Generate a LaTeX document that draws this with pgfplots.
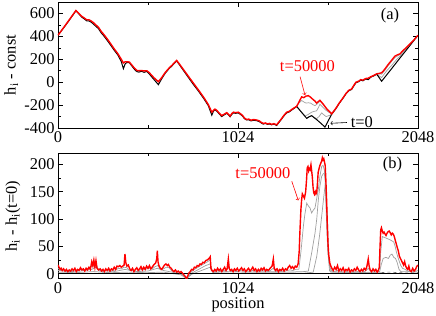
\documentclass[border=0pt]{standalone}
\usepackage{pgfplots}
\pgfplotsset{compat=1.18}
\usepackage{fontspec}
\setmainfont{Liberation Serif}
\definecolor{lgray}{RGB}{160,160,160}
\definecolor{dgray}{RGB}{110,110,110}
\newcommand{\ff}{\fontsize{16.5}{19}\selectfont}
\begin{document}
\begin{tikzpicture}
\useasboundingbox (-58bp,2bp) rectangle (378bp,-314bp);
\pgfplotsset{
 myax/.style={scale only axis, width=360bp, xmin=0, xmax=2048, anchor=north west,
  font=\ff,
  /pgf/number format/assume math mode=true, /pgf/number format/1000 sep={},
  xtick={0,1024,2048}, minor xtick={512,1536},
  axis line style={line width=0.8bp},
  every tick/.style={black, line width=0.6bp},
  major tick length=5bp, minor tick length=3bp},
 gl/.style={lgray, line width=0.7bp},
 rl/.style={red, line width=1.4bp},
 bl/.style={black, line width=1bp}
}
% ---------------- panel (a) ----------------
\begin{axis}[myax, at={(0,0)}, height=126bp,
  ymin=-400, ymax=700, ytick={-400,-200,...,600}, minor ytick={-300,-100,100,300,500},
  ylabel={h\textsubscript{i} - const},
  ylabel style={at={(axis description cs:-0.13,0.5)}, anchor=center}]
\addplot[gl] coordinates {(1340,-230)(1358,-211)(1372,-180)(1386,-160)(1398,-172)(1410,-182)(1424,-180)(1436,-182)(1450,-196)(1462,-205)(1475,-190)(1490,-165)(1500,-180)(1509,-196)(1530,-236)(1557,-277)(1580,-231)};
\addplot[gl] coordinates {(1358,-211)(1385,-260)(1405,-295)(1420,-285)(1443,-262)(1457,-255)(1471,-250)(1482,-220)(1490,-192)(1505,-215)(1520,-240)(1540,-262)(1557,-278)};
\addplot[gl] coordinates {(1415,-314)(1443,-294)(1457,-306)(1471,-318)(1485,-300)(1500,-268)(1510,-282)(1525,-300)(1545,-290)(1557,-280)};
\addplot[gl] coordinates {(1795,56)(1813,72)(1830,72)(1841,70)(1860,105)(1879,145)(1900,185)(1917,215)(1935,232)(1946,242)(1962,270)(1980,298)};
\addplot[gl] coordinates {(1813,71)(1841,40)(1870,100)(1900,150)(1930,205)(1946,228)(1970,275)(1990,305)};
\addplot[bl] coordinates {
(0,410)(30,470)(60,532)(102,624)(120,594)(135,568)(150,552)(163,536)(175,535)(185,528)
(200,510)(215,488)(230,468)(245,432)(260,405)(280,365)(300,322)(320,278)(340,238)(360,180)
(372,118)(382,160)(392,172)(406,170)(420,142)(435,112)(448,93)(460,88)(475,95)(490,86)
(505,94)(518,75)(532,48)(545,25)(558,2)(571,-22)(590,30)(610,78)(630,115)(650,145)
(675,186)(690,154)(710,110)(740,45)(770,-20)(800,-80)(830,-145)(855,-205)(875,-288)(885,-252)
(893,-240)(905,-256)(918,-278)(931,-300)(945,-286)(960,-272)(970,-286)(979,-302)(990,-278)(998,-268)
(1010,-272)(1025,-268)(1035,-278)(1050,-296)(1060,-318)(1073,-330)(1085,-328)(1098,-338)(1112,-332)(1130,-336)
(1145,-344)(1158,-358)(1168,-366)(1180,-360)(1192,-368)(1204,-365)(1215,-372)(1228,-366)(1244,-378)(1258,-350)
(1270,-326)(1285,-295)(1301,-268)(1315,-260)(1328,-245)(1340,-232)(1358,-212)(1385,-262)(1415,-316)(1428,-302)
(1443,-292)(1457,-310)(1471,-326)(1495,-358)(1519,-392)(1538,-335)(1557,-280)(1580,-233)(1600,-185)(1620,-143)
(1640,-98)(1655,-74)(1670,-64)(1682,-35)(1695,-5)(1710,4)(1722,18)(1735,12)(1750,28)(1765,22)
(1780,44)(1795,54)(1813,70)(1827,40)(1841,8)(1900,122)(1946,212)(2000,316)(2048,410)};
\addplot[rl] coordinates {
(0,410)(30,472)(60,536)(102,626)(120,598)(135,575)(150,560)(163,545)(175,545)(185,538)
(200,522)(215,500)(230,480)(245,445)(260,418)(280,378)(300,335)(320,290)(340,250)(360,200)
(372,168)(382,178)(392,178)(406,176)(420,150)(435,122)(448,103)(460,100)(475,102)(490,98)
(505,100)(518,85)(532,62)(545,40)(558,22)(571,4)(590,40)(610,85)(630,120)(650,150)
(675,190)(690,160)(710,118)(740,55)(770,-8)(800,-70)(830,-135)(855,-195)(875,-262)(885,-245)
(893,-235)(905,-248)(918,-272)(931,-292)(945,-280)(960,-266)(970,-280)(979,-296)(990,-272)(998,-262)
(1010,-266)(1025,-262)(1035,-272)(1050,-290)(1060,-312)(1073,-326)(1085,-322)(1098,-332)(1112,-326)(1130,-330)
(1145,-338)(1158,-352)(1168,-360)(1180,-356)(1192,-364)(1204,-360)(1215,-368)(1228,-362)(1244,-372)(1258,-345)
(1270,-322)(1285,-290)(1301,-262)(1315,-255)(1328,-240)(1340,-228)(1358,-210)(1372,-170)(1386,-128)(1398,-135)
(1410,-122)(1424,-118)(1436,-130)(1450,-150)(1462,-165)(1471,-182)(1482,-168)(1490,-158)(1500,-176)(1509,-192)
(1530,-235)(1557,-276)(1580,-230)(1600,-182)(1620,-140)(1640,-95)(1655,-70)(1670,-60)(1682,-30)(1695,0)
(1710,8)(1722,22)(1735,18)(1750,32)(1765,35)(1780,48)(1795,58)(1813,73)(1825,76)(1841,82)
(1852,100)(1862,120)(1879,156)(1892,180)(1905,205)(1917,228)(1930,238)(1946,248)(1962,275)(1980,300)
(1995,322)(2010,345)(2030,378)(2048,410)};
\node[font=\ff] at (axis cs:1889,585) {(a)};
\node[red, font=\ff] at (axis cs:1419,136) {t=50000};
\draw[red, ->, line width=0.6bp] (axis cs:1377,49) -- (axis cs:1405,-112);
\node[font=\ff] at (axis cs:1729,-348) {t=0};
\draw[black, ->, line width=0.6bp] (axis cs:1644,-352) -- (axis cs:1550,-359);
\end{axis}
% ---------------- panel (b) ----------------
\begin{axis}[myax, at={(0,-151.3bp)}, height=125.4bp,
  ymin=-9, ymax=220, ytick={0,50,...,200}, minor ytick={25,75,125,175},
  ylabel={h\textsubscript{i} - h\textsubscript{i}(t=0)},
  ylabel style={at={(axis description cs:-0.125,0.5)}, anchor=center},
  xlabel={position},
  xlabel style={at={(axis description cs:0.5,0)}, anchor=base, yshift=-30bp}]
\addplot[gl] coordinates {
(0,10)(16,6)(32,7)(48,4)(64,6)(80,5)(96,8)(112,5)(128,8)(144,6)(160,7)(176,9)(192,14)(208,12)(216,18)(232,6)
(248,4)(264,5)(280,7)(296,4)(312,6)(328,7)(344,10)(360,9)(376,12)(392,11)(408,6)(424,7)(440,5)(456,4)(472,8)
(488,7)(504,9)(520,10)(536,9)(552,13)(568,15)(584,7)(600,9)(616,12)(632,11)(648,5)(664,3)(680,2)(696,1)(712,-3)
(728,-8)(744,-2)(760,4)(776,8)(792,11)(808,14)(824,17)(840,20)(856,23)(866,26)(872,6)(888,3)(904,6)(920,4)(936,7)
(952,5)(968,12)(984,4)(1000,6)(1016,4)(1032,5)(1048,7)(1064,3)(1080,5)(1096,4)(1112,7)(1128,3)(1144,5)(1160,6)
(1176,7)(1192,4)(1208,6)(1224,10)(1240,4)(1256,3)(1272,5)(1288,4)(1304,6)(1320,7)(1336,6)(1352,8)(1370,8)(1382,40)
(1396,87)(1405,110)(1415,129)(1424,124)(1434,120)(1443,111)(1452,116)(1462,120)(1472,138)(1481,154)(1490,178)
(1500,196)(1508,198)(1515,190)(1522,165)(1528,111)(1534,60)(1538,34)(1546,12)(1556,6)(1570,4)(1590,6)(1610,4)
(1630,3)(1650,5)(1670,3)(1690,5)(1710,4)(1730,3)(1750,5)(1765,10)(1780,4)(1800,3)(1820,4)(1830,10)(1836,40)
(1845,68)(1860,66)(1875,64)(1889,62)(1900,60)(1910,58)(1918,50)(1925,40)(1932,32)(1940,24)(1950,15)(1960,10)
(1975,8)(1990,5)(2010,3)(2030,4)(2048,6)};
\addplot[gl] coordinates {
(0,6)(64,4)(128,5)(192,8)(216,12)(256,3)(320,4)(381,8)(448,4)(512,5)(565,10)(600,6)(648,3)(700,-1)(732,-8)
(760,1)(800,8)(840,15)(866,18)(880,3)(960,4)(1100,3)(1200,4)(1300,3)(1400,4)(1424,5)(1443,38)(1462,74)(1472,100)
(1481,135)(1490,160)(1500,178)(1508,182)(1515,184)(1520,170)(1525,120)(1530,75)(1535,40)(1545,5)(1600,3)(1700,2)
(1800,3)(1830,4)(1840,18)(1850,28)(1865,30)(1880,28)(1890,34)(1900,36)(1910,30)(1920,28)(1930,20)(1940,8)(1950,4)(2048,3)};
\addplot[gl] coordinates {
(0,3)(100,2)(200,4)(300,2)(400,3)(500,2)(600,3)(700,-2)(732,-9)(760,-1)(800,4)(866,12)(880,2)(1000,1)(1200,2)
(1400,1)(1452,3)(1472,32)(1488,70)(1500,105)(1510,135)(1519,160)(1526,140)(1532,110)(1541,27)(1550,3)(1700,2)(1840,2)};
\addplot[dgray, dashed, line width=0.7bp] coordinates {(1840,2)(1870,3)(1900,3)(1930,2)(1960,2)(2000,1)(2048,2)};
\addplot[bl] coordinates {(0,0)(2048,0)};
\addplot[rl] coordinates {
(0,16)(6,12)(12,8)(18,10)(24,6)(32,9)(40,5)(48,8)(56,4)(64,7)(72,5)(80,9)(88,6)(96,10)(104,4)(112,8)(120,6)
(128,11)(136,7)(144,9)(152,5)(160,10)(168,7)(176,12)(184,8)(192,22)(198,15)(204,25)(210,12)(216,24)(222,10)
(230,7)(240,9)(248,5)(256,8)(264,4)(272,9)(280,6)(288,10)(296,5)(304,9)(312,7)(320,12)(328,8)(336,14)(344,13)
(352,15)(360,12)(368,14)(376,16)(381,36)(386,20)(392,14)(400,16)(408,9)(416,6)(424,10)(432,4)(440,8)(448,11)
(456,6)(464,9)(472,13)(480,7)(488,12)(496,8)(504,14)(512,10)(520,15)(528,9)(536,12)(544,16)(550,18)(556,20)
(562,28)(565,42)(569,22)(574,15)(582,10)(590,8)(598,12)(606,16)(614,18)(622,15)(628,17)(636,12)(644,10)(652,6)
(660,4)(668,7)(676,3)(684,5)(692,2)(700,4)(708,1)(716,-2)(724,-5)(732,-9)(738,-4)(744,1)(752,4)(760,8)(768,7)
(776,12)(784,11)(792,15)(800,14)(808,18)(816,17)(824,21)(832,20)(840,24)(848,25)(856,27)(862,29)(866,31)(870,10)
(876,6)(884,4)(892,8)(900,5)(908,10)(916,6)(924,9)(932,4)(940,8)(948,12)(956,6)(962,9)(969,27)(974,10)(980,6)
(988,8)(996,4)(1004,9)(1012,6)(1020,10)(1028,5)(1036,8)(1044,11)(1052,6)(1060,9)(1068,4)(1076,7)(1084,10)
(1092,5)(1100,8)(1108,12)(1116,6)(1124,9)(1132,4)(1140,8)(1148,5)(1156,10)(1164,7)(1172,11)(1180,5)(1188,8)
(1196,6)(1204,9)(1212,12)(1218,14)(1225,27)(1230,10)(1238,6)(1246,9)(1254,4)(1262,8)(1270,6)(1278,10)(1286,5)
(1294,9)(1302,7)(1310,12)(1318,15)(1326,10)(1334,13)(1342,9)(1350,14)(1358,12)(1366,18)(1372,40)(1376,75)
(1382,118)(1386,135)(1390,146)(1396,142)(1402,138)(1409,150)(1414,172)(1418,194)(1422,196)(1426,188)(1430,192)
(1434,190)(1439,199)(1443,188)(1447,176)(1451,158)(1455,148)(1459,145)(1464,150)(1468,146)(1472,149)(1476,165)
(1480,185)(1485,192)(1490,198)(1495,202)(1500,206)(1504,212)(1508,208)(1512,210)(1516,204)(1520,198)(1524,170)
(1528,135)(1532,90)(1536,55)(1540,35)(1546,20)(1552,14)(1558,10)(1566,6)(1574,12)(1582,8)(1590,15)(1598,5)
(1606,9)(1614,6)(1622,11)(1630,4)(1638,8)(1646,6)(1654,10)(1662,3)(1670,7)(1678,5)(1686,9)(1694,6)(1702,12)
(1710,7)(1718,4)(1726,8)(1734,5)(1742,10)(1750,7)(1756,12)(1760,18)(1765,27)(1770,14)(1776,7)(1784,4)(1792,9)
(1800,5)(1808,8)(1816,3)(1822,6)(1828,12)(1832,50)(1836,80)(1840,84)(1845,78)(1850,74)(1855,76)(1860,73)
(1866,70)(1872,74)(1878,77)(1884,78)(1890,75)(1896,71)(1902,74)(1908,72)(1913,68)(1918,62)(1924,55)(1930,48)
(1936,42)(1942,32)(1948,28)(1954,24)(1960,20)(1966,16)(1972,22)(1978,14)(1984,10)(1990,8)(1996,14)(2002,6)
(2010,4)(2018,10)(2026,5)(2034,8)(2040,13)(2048,16)};
\node[font=\ff] at (axis cs:1903,199) {(b)};
\node[red, font=\ff] at (axis cs:1166,184) {t=50000};
\draw[red, ->, line width=0.6bp] (axis cs:1330,169) -- (axis cs:1367,134);
\end{axis}
\end{tikzpicture}
\end{document}
